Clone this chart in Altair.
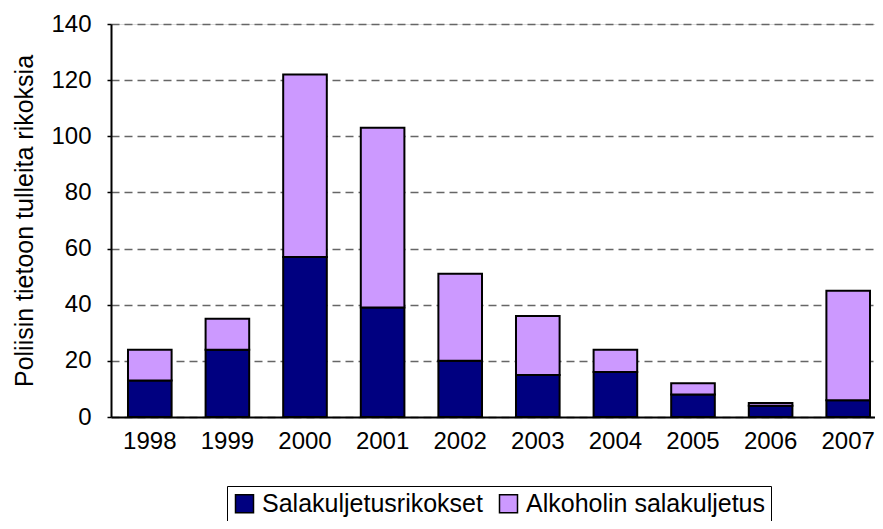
import altair as alt
import pandas as pd

years = ["1998", "1999", "2000", "2001", "2002", "2003", "2004", "2005", "2006", "2007"]
salakuljetus = [13, 24, 57, 39, 20, 15, 16, 8, 4, 6]
alkoholi = [11, 11, 65, 64, 31, 21, 8, 4, 1, 39]
series_names = ["Salakuljetusrikokset", "Alkoholin salakuljetus"]
colors = ["#000080", "#CC99FF"]
y_ticks = [0, 20, 40, 60, 80, 100, 120, 140]

rows = []
for i, yr in enumerate(years):
    rows.append({"year": yr, "series": series_names[0], "value": salakuljetus[i], "ord": 0})
    rows.append({"year": yr, "series": series_names[1], "value": alkoholi[i], "ord": 1})
df = pd.DataFrame(rows)

FONT = "Liberation Sans"

chart = alt.Chart(df).mark_bar(stroke="black", strokeWidth=2).encode(
    x=alt.X("year:N", sort=years, title=None,
            scale=alt.Scale(paddingInner=0.438, paddingOuter=0.219),
            axis=alt.Axis(labelAngle=0, ticks=False, domain=True, domainColor="black",
                          domainWidth=2, labelFontSize=24, labelFont=FONT,
                          labelColor="black", labelPadding=12)),
    y=alt.Y("value:Q", stack="zero", title="Poliisin tietoon tulleita rikoksia",
            scale=alt.Scale(domain=[0, 140], nice=False),
            axis=alt.Axis(values=y_ticks, grid=True, gridColor="#666666", gridDash=[8, 5],
                          gridWidth=1.3, domainColor="black", domainWidth=2,
                          tickColor="black", tickSize=4, tickWidth=1.5,
                          labelFontSize=24, labelFont=FONT, labelColor="black",
                          labelPadding=16, titleFontSize=25, titleFont=FONT,
                          titleFontWeight="normal", titleColor="black",
                          titleAngle=-90, titleX=-87, titleY=196.5,
                          titleAlign="center", titleBaseline="middle")),
    color=alt.Color("series:N", scale=alt.Scale(domain=series_names, range=colors),
                    title=None,
                    legend=alt.Legend(orient="none", legendX=116, legendY=462,
                                      direction="horizontal", symbolType="square",
                                      symbolSize=324, symbolStrokeColor="black",
                                      symbolStrokeWidth=1.5, symbolOpacity=1,
                                      labelFontSize=25, labelFont=FONT,
                                      labelColor="black", labelLimit=500,
                                      labelOffset=5, columnPadding=13,
                                      padding=5, strokeColor="black",
                                      fillColor="white")),
    order=alt.Order("ord:Q", sort="ascending"),
).properties(
    width=776, height=393,
    autosize=alt.AutoSizeParams(type="none"),
    padding={"left": 103, "top": 16, "right": -12, "bottom": 104},
).configure_view(stroke="black", strokeWidth=2).configure(background="white")

chart.save("out.html", embed_options={"renderer": "svg", "actions": False})
